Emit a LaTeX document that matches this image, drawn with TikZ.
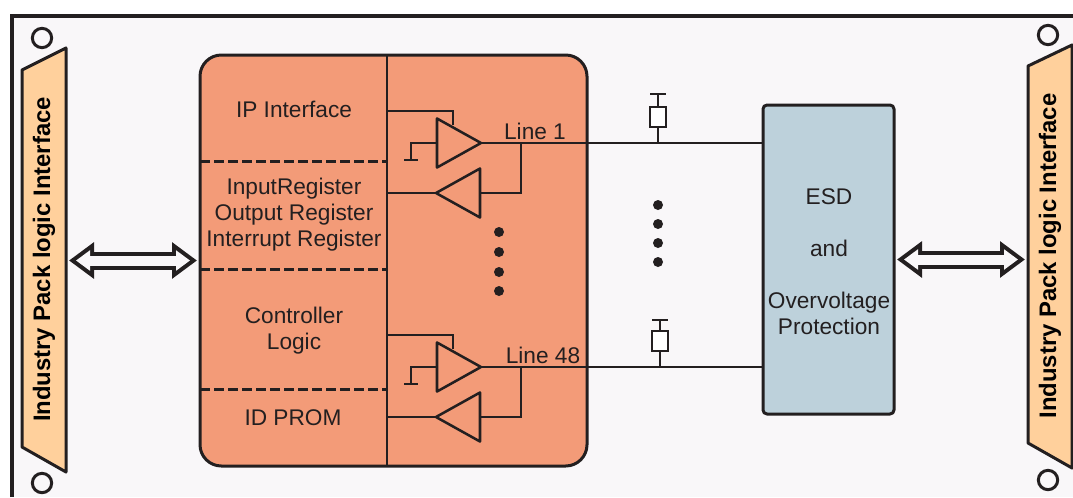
\documentclass[tikz,border=0pt]{standalone}
\usepackage{fontspec}
\setmainfont{Liberation Sans}
\usetikzlibrary{arrows.meta,shapes.geometric}
\definecolor{inkc}{HTML}{231F20}
\definecolor{sheetc}{HTML}{F9F7F9}
\definecolor{blockc}{HTML}{F39B78}
\definecolor{panelc}{HTML}{FFD09C}
\definecolor{esdc}{HTML}{BDD1DB}
\tikzset{
  thickline/.style={inkc, line width=2.25pt, line join=round},
  thinline/.style={inkc, line width=1.5pt},
  lbl/.style={text=inkc, inner sep=0pt, font=\fontsize{17}{19.5}\selectfont, align=center},
  paneltext/.style={text=black, rotate=90, inner sep=0pt, outer sep=0pt, minimum width=318pt, minimum height=33pt, font=\fontsize{17.9}{20}\selectfont\bfseries},
  amp/.style={isosceles triangle, isosceles triangle stretches, thickline, line width=1.9pt, draw, inner sep=0pt, outer sep=0pt, minimum width=36.75pt, minimum height=33pt},
  bigdot/.style={circle, fill=inkc, inner sep=0pt, minimum size=7.5pt},
  ring/.style={circle, draw=inkc, line width=2.25pt, inner sep=0pt, minimum size=14.5pt},
  duplex/.style={
    preaction={draw=inkc, line width=13.5pt, {Triangle[length=18.75pt,width=26.25pt]}-{Triangle[length=18.75pt,width=26.25pt]}, shorten <=2.25pt, shorten >=2.25pt},
    draw=sheetc, line width=7.5pt, {Triangle[length=10.5pt,width=14.7pt]}-{Triangle[length=10.5pt,width=14.7pt]}, shorten <=7.5pt, shorten >=7.5pt},
}
\begin{document}
\begin{tikzpicture}[x=0.75pt,y=-0.75pt]
\useasboundingbox (0,0) rectangle (1073,497);
\fill[sheetc] (12,16) rectangle (1073,497);
\draw[inkc, line width=2.6pt] (12,497) |- (1073,16);

% side panels
\draw[thickline, fill=panelc] (22,70) -- (66,48) -- (66,472) -- (22,447) -- cycle;
\draw[thickline, fill=panelc] (1028,66) -- (1072,45) -- (1072,468) -- (1028,443) -- cycle;
\node[paneltext] (lpanel) at (44,259.5) {Industry Pack logic Interface};
\node[paneltext] (rpanel) at (1050,256) {Industry Pack logic Interface};

\node[ring] (ring1) at (42,38) {};
\node[ring] (ring2) at (42,483) {};
\node[ring] (ring3) at (1048,35) {};
\node[ring] (ring4) at (1048,480) {};

% main blocks
\node[thickline, draw, fill=blockc, rounded corners=16pt, minimum width=290.25pt, minimum height=308.25pt, inner sep=0pt, outer sep=0pt] (ctrl) at (393.5,260.5) {};
\node[thickline, draw, fill=esdc, rounded corners=3pt, minimum width=98.25pt, minimum height=231.75pt, outer sep=0pt] (esd) at (828.5,259.5) {};
\node[lbl] (esdtxt) at (829,262) {ESD\\[19.5pt]and\\[19.5pt]Overvoltage\\Protection};

\coordinate (split) at (387,261);
\draw[thinline] (split |- ctrl.north) -- (split |- ctrl.south);
\foreach \y in {161,269,389}
  \draw[thickline, dash pattern=on 7.5pt off 3pt] (200,\y) -- (387,\y);

\node[lbl] (ipif) at (294,109.5) {IP Interface};
\node[lbl] (regs) at (294,215) {InputRegister\\Output Register\\Interrupt Register};
\node[lbl] (logic) at (294,331) {Controller\\Logic};
\node[lbl] (prom) at (293,418) {ID PROM};

% line drivers
\foreach \n/\dy/\rx/\rtop/\name/\nx in {1/0/658/94/Line 1/535,2/224/660/320/Line 48/543}{
  \begin{scope}[shift={(0,\dy)}]
    \node[amp, anchor=apex] (drv\n) at (481,143) {};
    \node[amp, anchor=apex, shape border rotate=180] (rcv\n) at (436,193) {};
    \coordinate (busa\n) at (387,111);
    \coordinate (busb\n) at (387,193);
    \coordinate (fb\n) at (453,125);
    \coordinate (gnd\n) at (411,160);
    \coordinate (tap\n) at (521,143);
    \node[lbl] (name\n) at (\nx,131) {\name};
  \end{scope}
  \draw[thinline] (busa\n) -| (fb\n);
  \draw[thinline] (drv\n.lower side) -| (gnd\n);
  \draw[thinline] ([xshift=-5pt]gnd\n) -- ([xshift=5pt]gnd\n);
  \draw[thinline] (busb\n) -- (rcv\n.apex);
  \draw[thinline] (rcv\n.lower side) -| (tap\n);
  \draw[thickline, line width=1.9pt] (drv\n.apex) -- (tap\n);
  \draw[thinline] (tap\n) -- (tap\n -| esd.west);
  \node[thinline, draw, fill=white, minimum width=12pt, minimum height=15pt, inner sep=0pt, outer sep=0pt] (res\n) at (\rx,117+\dy) {};
  \coordinate (cap\n) at (\rx,\rtop);
  \draw[thinline] (res\n.south) -- (res\n.south |- tap\n);
  \draw[thinline] (res\n.north) -- (cap\n);
  \draw[thinline] ([xshift=-6pt]cap\n) -- ([xshift=6pt]cap\n);
}

% dots
\foreach \y in {232,252,272,291}
  \node[bigdot] (doti\y) at (499,\y) {};
\foreach \y in {205,224,243,262}
  \node[bigdot] (doto\y) at (658,\y) {};

% buses
\draw[duplex] (lpanel.south |- ctrl.west) -- (ctrl.west);
\draw[duplex] (esd.east) -- (esd.east -| rpanel.north);
\end{tikzpicture}
\end{document}
